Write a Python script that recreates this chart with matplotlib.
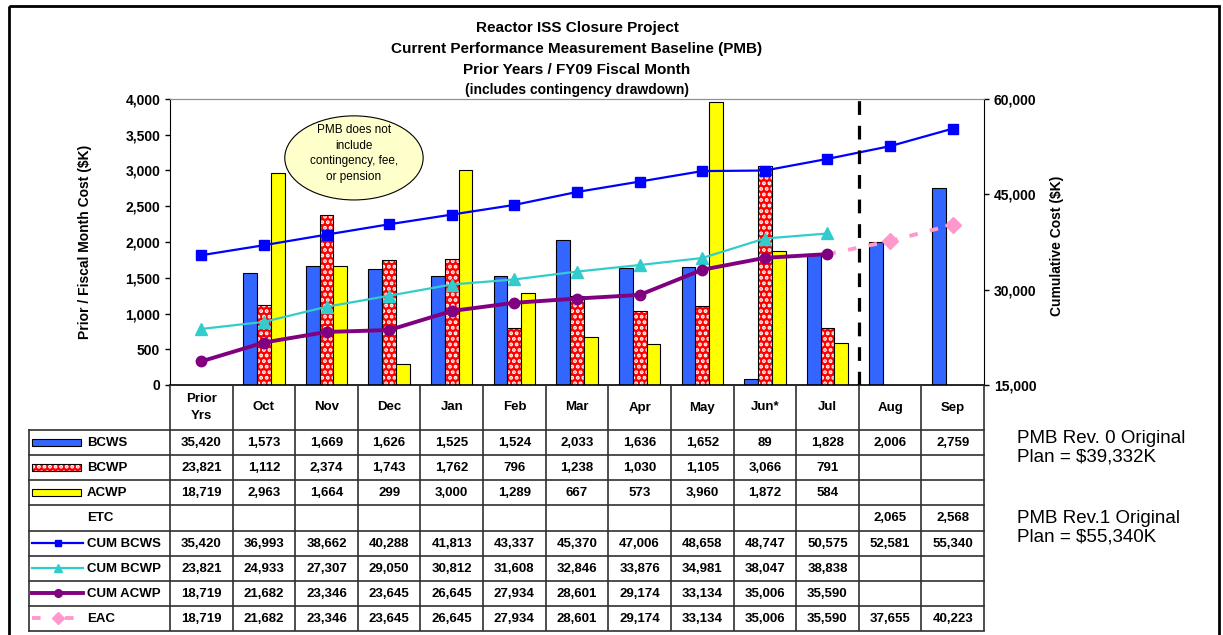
import numpy as np
import matplotlib
matplotlib.use("Agg")
import matplotlib.pyplot as plt
from matplotlib.patches import Rectangle, Ellipse
from matplotlib.ticker import FuncFormatter

plt.rcParams['font.family'] = ['Liberation Sans', 'DejaVu Sans']
plt.rcParams['font.weight'] = 'bold'
plt.rcParams['hatch.linewidth'] = 1.9

# ---- data ----
columns = ['Prior\nYrs', 'Oct', 'Nov', 'Dec', 'Jan', 'Feb', 'Mar', 'Apr',
           'May', 'Jun*', 'Jul', 'Aug', 'Sep']
bcws = [35420, 1573, 1669, 1626, 1525, 1524, 2033, 1636, 1652, 89, 1828, 2006, 2759]
bcwp = [23821, 1112, 2374, 1743, 1762, 796, 1238, 1030, 1105, 3066, 791]
acwp = [18719, 2963, 1664, 299, 3000, 1289, 667, 573, 3960, 1872, 584]
etc = [None, None, None, None, None, None, None, None, None, None, None, 2065, 2568]
cum_bcws = [35420, 36993, 38662, 40288, 41813, 43337, 45370, 47006, 48658, 48747,
            50575, 52581, 55340]
cum_bcwp = [23821, 24933, 27307, 29050, 30812, 31608, 32846, 33876, 34981, 38047, 38838]
cum_acwp = [18719, 21682, 23346, 23645, 26645, 27934, 28601, 29174, 33134, 35006, 35590]
eac = [18719, 21682, 23346, 23645, 26645, 27934, 28601, 29174, 33134, 35006,
       35590, 37655, 40223]

title_lines = ['Reactor ISS Closure Project',
               'Current Performance Measurement Baseline (PMB)',
               'Prior Years / FY09 Fiscal Month',
               '(includes contingency drawdown)']
note = 'PMB does not\ninclude\ncontingency, fee,\nor pension'
rev0 = 'PMB Rev. 0 Original\nPlan = $39,332K'
rev1 = 'PMB Rev.1 Original\nPlan = $55,340K'

C_BCWS, C_BCWP, C_ACWP = '#3366FF', '#FF0000', '#FFFF00'
C_CBCWS, C_CBCWP, C_CACWP, C_EAC = '#0000FF', '#33CCCC', '#800080', '#FF99CC'

W, H = 1223, 635
fig = plt.figure(figsize=(W / 100, H / 100), dpi=100)

# plot area in pixels
PL, PR, PT, PB = 170, 984, 99, 385
ax = fig.add_axes([PL / W, 1 - PB / H, (PR - PL) / W, (PB - PT) / H])
ax.set_facecolor('none')
ax2 = ax.twinx()

n = len(columns)
ax.set_xlim(-0.5, n - 0.5)
ax.set_ylim(0, 4000)
ax.set_yticks(np.arange(0, 4001, 500))
ax2.set_ylim(15000, 60000)
ax2.set_yticks([15000, 30000, 45000, 60000])
fmt = FuncFormatter(lambda v, p: f'{v:,.0f}')
ax.yaxis.set_major_formatter(fmt)
ax2.yaxis.set_major_formatter(fmt)
ax.set_xticks([])
for a in (ax, ax2):
    a.tick_params(axis='y', length=3.5, width=1, labelsize=10, pad=3.5)
ax.spines['right'].set_visible(False)
ax.spines['top'].set_color('#909090')
ax2.spines['top'].set_color('#909090')
ax2.spines['left'].set_visible(False)
ax2.spines['bottom'].set_visible(False)
ax.spines['bottom'].set_linewidth(1.2)

# bars (monthly, prior years column is off scale and not drawn)
bw = 0.22
xs = np.arange(1, len(bcws))
ax.bar(xs - bw, bcws[1:], bw, color=C_BCWS, edgecolor='black', lw=0.8)
xp = np.arange(1, len(bcwp))
ax.bar(xp, bcwp[1:], bw, color=C_BCWP, edgecolor='white', hatch='...', lw=0)
ax.bar(xp, bcwp[1:], bw, fill=False, edgecolor='black', lw=0.8)
xa = np.arange(1, len(acwp))
ax.bar(xa + bw, acwp[1:], bw, color=C_ACWP, edgecolor='black', lw=0.8)

# cumulative lines
k = len(cum_acwp) - 1
xe = np.arange(len(eac))
ax2.plot(xe[k:], eac[k:], color=C_EAC, lw=2.8, dashes=(2.2, 3.2), marker='D',
         ms=8, mec=C_EAC, markevery=list(range(1, len(eac) - k)), zorder=2)
ax2.plot(np.arange(len(cum_bcws)), cum_bcws, color=C_CBCWS, lw=1.6, marker='s',
         ms=6.5, mec=C_CBCWS, zorder=3)
ax2.plot(np.arange(len(cum_bcwp)), cum_bcwp, color=C_CBCWP, lw=1.6, marker='^',
         ms=8.5, mec=C_CBCWP, zorder=3)
ax2.plot(np.arange(len(cum_acwp)), cum_acwp, color=C_CACWP, lw=2.8, marker='o',
         ms=7.5, mec=C_CACWP, zorder=4)

# divider between actuals and forecast
ax2.axvline(len(cum_acwp) - 0.5, color='black', lw=2.3, dashes=(4.3, 3.4), zorder=5)

# callout ellipse
ax2.add_patch(Ellipse((0.226, 0.794), 0.17, 0.294, transform=ax2.transAxes,
                      facecolor='#FFFFCC', edgecolor='black', lw=0.8, zorder=10))
ax2.text(0.226, 0.809, note, transform=ax2.transAxes, ha='center', va='center',
         fontsize=8.5, fontweight='normal', linespacing=1.4, zorder=11)

# ---- overlay in pixel coordinates: titles, table, border ----
ov = fig.add_axes([0, 0, 1, 1])
ov.set_xlim(0, W)
ov.set_ylim(H, 0)
ov.axis('off')
ov.patch.set_visible(False)

cx = (PL + PR) / 2
for t, y, fs in zip(title_lines, [28, 49, 70, 90], [11, 11, 11, 10]):
    ov.text(cx, y, t, ha='center', va='center', fontsize=fs)

ov.text(85, 242, 'Prior / Fiscal Month Cost ($K)', rotation=90, ha='center',
        va='center', fontsize=10)
ov.text(1057, 246, 'Cumulative Cost ($K)', rotation=90, ha='center',
        va='center', fontsize=10)

colw = (PR - PL) / n
TL, HB, TB = 29, 430, 631
rh = (TB - HB) / 8
gc, glw = '#303030', 1.2
for j in range(n + 1):
    xv = PL + j * colw
    ov.plot([xv, xv], [PB, TB], color=gc, lw=glw, solid_capstyle='butt')
ov.plot([TL, TL], [HB, TB], color=gc, lw=glw)
for r in range(9):
    yv = HB + r * rh
    ov.plot([TL, PR], [yv, yv], color=gc, lw=glw)

for j, c in enumerate(columns):
    ov.text(PL + (j + 0.5) * colw, (PB + HB) / 2, c, ha='center', va='center',
            fontsize=9.5, linespacing=1.45)

rows = [('BCWS', bcws), ('BCWP', bcwp), ('ACWP', acwp), ('ETC', etc),
        ('CUM BCWS', cum_bcws), ('CUM BCWP', cum_bcwp), ('CUM ACWP', cum_acwp),
        ('EAC', eac)]
for r, (name, vals) in enumerate(rows):
    yc = HB + (r + 0.5) * rh
    ov.text(87, yc + 0.5, name, ha='left', va='center', fontsize=9.5)
    for j, v in enumerate(vals):
        if v is not None:
            ov.text(PL + (j + 0.5) * colw, yc + 0.5, f'{v:,}', ha='center',
                    va='center', fontsize=9.5)

# legend keys in the row label column
def key_bar(r, color, hatch=None):
    yc = HB + (r + 0.5) * rh
    if hatch:
        ov.add_patch(Rectangle((32, yc - 3.5), 49, 7, facecolor=color,
                               edgecolor='white', hatch=hatch, lw=0))
        ov.add_patch(Rectangle((32, yc - 3.5), 49, 7, fill=False,
                               edgecolor='black', lw=0.8))
    else:
        ov.add_patch(Rectangle((32, yc - 3.5), 49, 7, facecolor=color,
                               edgecolor='black', lw=0.8))

def key_line(r, color, lw, marker, ms, dashes=None):
    yc = HB + (r + 0.5) * rh
    kw = dict(dashes=dashes) if dashes else {}
    ov.plot([32, 83], [yc, yc], color=color, lw=lw, **kw)
    ov.plot([57.5], [yc], marker=marker, color=color, ms=ms, mec=color)

key_bar(0, C_BCWS)
key_bar(1, C_BCWP, '...')
key_bar(2, C_ACWP)
key_line(4, C_CBCWS, 1.6, 's', 5)
key_line(5, C_CBCWP, 1.6, '^', 6)
key_line(6, C_CACWP, 2.8, 'o', 5.5)
key_line(7, C_EAC, 2.8, 'D', 6.5, dashes=(2.2, 6.3))

ov.text(1017, 430, rev0, ha='left', va='top', fontsize=13.5, fontweight='normal',
        linespacing=1.1)
ov.text(1017, 510, rev1, ha='left', va='top', fontsize=13.5, fontweight='normal',
        linespacing=1.1)

ov.add_patch(Rectangle((8.5, 6), 1210.5, 700, fill=False, lw=2, edgecolor='black'))

fig.savefig('out.png', dpi=100)
